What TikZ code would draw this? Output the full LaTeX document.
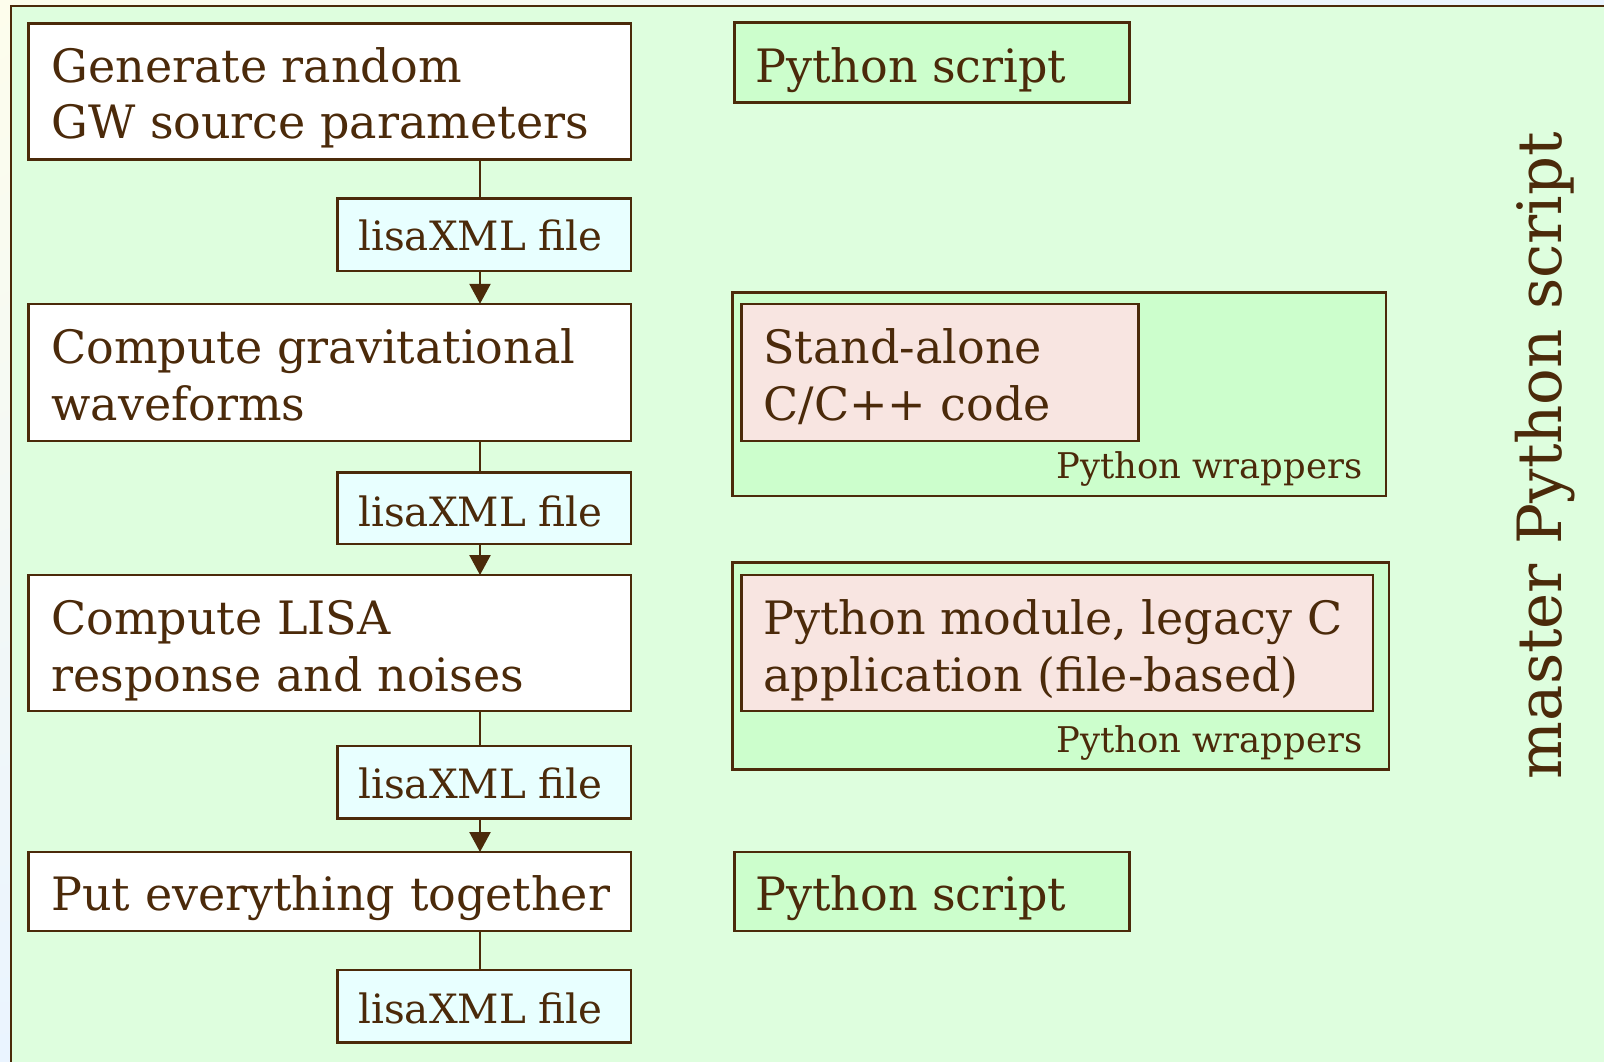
\documentclass[tikz,border=0pt]{standalone}
\usepackage{fontspec}
\setmainfont{DejaVu Serif}
\usetikzlibrary{arrows.meta,fit,shadings}
\definecolor{ink}{HTML}{4B2A0A}
\definecolor{bgcream}{HTML}{FDFDEC}
\definecolor{bgblue}{HTML}{EAF4FF}
\definecolor{outergreen}{HTML}{DEFEDE}
\definecolor{boxgreen}{HTML}{CCFECC}
\definecolor{boxpink}{HTML}{F8E5E1}
\definecolor{boxcyan}{HTML}{E8FFFF}
\begin{document}
\begin{tikzpicture}[x=0.5pt,y=-0.5pt,
  frame/.style={draw=ink, line width=1.25pt, inner sep=0pt, outer sep=0pt},
  stepbox/.style={frame, fill=white},
  filebox/.style={frame, fill=boxcyan},
  scriptbox/.style={frame, fill=boxgreen},
  codebox/.style={frame, fill=boxpink},
  bigtext/.style={font=\fontsize{23}{28}\selectfont, text=ink, anchor=base west, inner sep=0pt},
  filetext/.style={font=\fontsize{20.2}{24}\selectfont, text=ink, anchor=base west, inner sep=0pt},
  smalltext/.style={font=\fontsize{17.7}{20}\selectfont, text=ink, anchor=base east, inner sep=0pt},
  mastertext/.style={font=\fontsize{30.5}{36}\selectfont, text=ink, anchor=base west, inner sep=0pt, rotate=90},
  arrow/.style={draw=ink, line width=1.25pt, -{Triangle[length=10pt,width=10.5pt]}},
  link/.style={draw=ink, line width=1.25pt}]
\useasboundingbox (0,0) rectangle (1604,1061);
\clip (0,0) rectangle (1604,1061);
\shade[upper left=bgcream, upper right=bgblue, lower left=bgblue, lower right=bgblue] (0,0) rectangle (1604,1061);
\draw[ink, line width=1.3pt, fill=outergreen] (11,6) rectangle (1700,1150);

% left column boxes
\node[stepbox, fit={(28.6,23.5) (631,159.6)}] (b1) {};
\node[filebox, fit={(337.6,198.5) (631,271)}] (f1) {};
\node[stepbox, fit={(28.6,303.8) (631,441)}] (b2) {};
\node[filebox, fit={(337.6,472.6) (631,544.2)}] (f2) {};
\node[stepbox, fit={(28.6,575) (631,711)}] (b3) {};
\node[filebox, fit={(337.6,745.8) (631,818.4)}] (f3) {};
\node[stepbox, fit={(28.6,852) (631,931)}] (b4) {};
\node[filebox, fit={(337.6,969.8) (631,1042.5)}] (f4) {};

% right column boxes
\node[scriptbox, fit={(734.5,22.5) (1129.4,102.3)}] (s1) {};
\node[scriptbox, fit={(732.5,292.6) (1386,496)}] (w1) {};
\node[codebox, fit={(741.7,303.8) (1138.6,441)}] (c1) {};
\node[scriptbox, fit={(732.5,562.7) (1389,769.3)}] (w2) {};
\node[codebox, fit={(741.7,575) (1373,711)}] (c2) {};
\node[scriptbox, fit={(734.5,852) (1129.4,931)}] (s2) {};

% texts
\node[bigtext] (t1a) at (51,82) {Generate random};
\node[bigtext] (t1b) at (51,138) {GW source parameters};
\node[bigtext] (t2a) at (51,363) {Compute gravitational};
\node[bigtext] (t2b) at (51,420.5) {waveforms};
\node[bigtext] (t3a) at (51,634) {Compute LISA};
\node[bigtext] (t3b) at (51,691.5) {response and noises};
\node[bigtext] (t4) at (51,910.5) {Put everything together};
\node[filetext] (ft1) at (358,250.6) {lisaXML file};
\node[filetext] (ft2) at (358,526) {lisaXML file};
\node[filetext] (ft3) at (358,798) {lisaXML file};
\node[filetext] (ft4) at (358,1023) {lisaXML file};

\node[bigtext] (st1) at (755,82) {Python script};
\node[bigtext] (st2) at (755,910.5) {Python script};
\node[bigtext] (ct1a) at (763,363) {Stand-alone};
\node[bigtext] (ct1b) at (763,420.5) {C/C++ code};
\node[bigtext] (ct2a) at (763,634) {Python module, legacy C};
\node[bigtext] (ct2b) at (763,691.5) {application (file-based)};
\node[smalltext] (wt1) at (1362.6,478.8) {Python wrappers};
\node[smalltext] (wt2) at (1362.6,752.5) {Python wrappers};
\node[mastertext] (mt) at (1561,779.5) {master Python script};

% connectors
\coordinate (spine) at (480,0);
\draw[link] (spine |- b1.south) -- (spine |- f1.north);
\draw[arrow] (spine |- f1.south) -- (spine |- b2.north);
\draw[link] (spine |- b2.south) -- (spine |- f2.north);
\draw[arrow] (spine |- f2.south) -- (spine |- b3.north);
\draw[link] (spine |- b3.south) -- (spine |- f3.north);
\draw[arrow] (spine |- f3.south) -- (spine |- b4.north);
\draw[link] (spine |- b4.south) -- (spine |- f4.north);
\end{tikzpicture}
\end{document}
